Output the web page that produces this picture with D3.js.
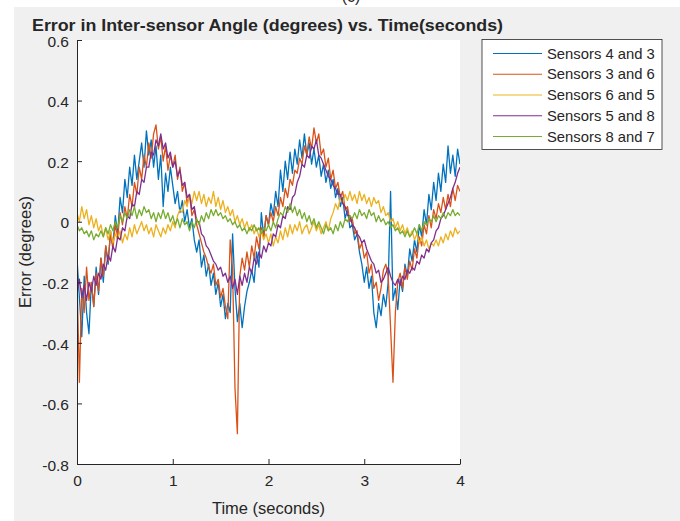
<!DOCTYPE html>
<html>
<head>
<meta charset="utf-8">
<script src="https://cdn.jsdelivr.net/npm/d3@7"></script>
<style>
  html, body { margin: 0; padding: 0; background: #ffffff; }
  svg { display: block; }
  text { font-family: "Liberation Sans", Arial, Helvetica, sans-serif; fill: #262626; }
</style>
</head>
<body>
<svg id="chart" width="680" height="521"></svg>
<script>
// Sampling grid of the recorded error signals (seconds)
const sampleStart = 0;
const sampleStep = 0.025;

const seriesNames = ["Sensors 4 and 3", "Sensors 3 and 6", "Sensors 6 and 5", "Sensors 5 and 8", "Sensors 8 and 7"];
const seriesColors = ["#0072BD", "#D95319", "#EDB120", "#7E2F8E", "#77AC30"];

const xTicks = [0, 1, 2, 3, 4];
const yTicks = [0.6, 0.4, 0.2, 0, -0.2, -0.4, -0.6, -0.8];

// Error in inter-sensor angle (degrees), one value per sample
const s43 = [
  -0.12, -0.25, -0.38, -0.18, -0.30, -0.37, -0.20, -0.28, -0.15, -0.24,
  -0.12, -0.20, -0.08, -0.14, -0.03, -0.08, 0.02, -0.04, 0.08, 0.03,
  0.14, 0.08, 0.18, 0.12, 0.22, 0.14, 0.20, 0.26, 0.18, 0.30,
  0.22, 0.27, 0.18, 0.25, 0.14, 0.22, 0.05, 0.16, 0.10, 0.18,
  0.12, 0.06, 0.10, 0.03, 0.07, 0.00, 0.04, -0.02, 0.01, -0.06,
  -0.10, -0.06, -0.15, -0.11, -0.18, -0.14, -0.21, -0.17, -0.24, -0.20,
  -0.28, -0.24, -0.32, -0.27, -0.30, -0.04, -0.22, -0.33, -0.27, -0.35,
  -0.28, -0.23, -0.20, -0.16, -0.20, -0.10, -0.15, 0.03, -0.05, 0.02,
  -0.01, 0.06, 0.02, 0.10, 0.05, 0.17, 0.10, 0.20, 0.14, 0.23,
  0.16, 0.24, 0.19, 0.27, 0.21, 0.29, 0.22, 0.26, 0.19, 0.24,
  0.18, 0.22, 0.15, 0.19, 0.13, 0.17, 0.11, 0.14, 0.08, 0.11,
  0.05, 0.08, 0.01, 0.04, -0.02, -0.01, -0.06, -0.04, -0.10, -0.14,
  -0.20, -0.15, -0.22, -0.18, -0.30, -0.35, -0.27, -0.31, -0.24, -0.28,
  -0.20, 0.10, -0.26, -0.22, -0.29, -0.19, -0.23, -0.14, -0.18, -0.09,
  -0.13, -0.06, -0.10, -0.01, -0.05, 0.04, -0.01, 0.09, 0.04, 0.13,
  0.07, 0.16, 0.10, 0.19, 0.13, 0.25, 0.16, 0.22, 0.15, 0.24, 0.19
];
const s36 = [
  -0.18, -0.53, -0.22, -0.30, -0.15, -0.26, -0.20, -0.28, -0.17, -0.23,
  -0.12, -0.18, -0.08, -0.13, -0.04, -0.09, -0.01, -0.05, 0.03, -0.01,
  0.05, 0.01, 0.09, 0.05, 0.13, 0.09, 0.18, 0.14, 0.22, 0.18,
  0.26, 0.21, 0.29, 0.32, 0.24, 0.28, 0.20, 0.25, 0.17, 0.22,
  0.18, 0.22, 0.14, 0.18, 0.10, 0.13, 0.06, 0.09, 0.02, 0.04,
  -0.01, -0.04, -0.07, -0.10, -0.12, -0.15, -0.17, -0.14, -0.21, -0.19,
  -0.25, -0.22, -0.28, -0.32, -0.06, -0.16, -0.55, -0.70, -0.18, -0.12,
  -0.16, -0.10, -0.15, -0.08, -0.12, -0.05, -0.09, -0.02, -0.05, 0.02,
  -0.01, 0.03, 0.00, 0.05, 0.02, 0.08, 0.05, 0.11, 0.08, 0.14,
  0.12, 0.17, 0.16, 0.21, 0.19, 0.25, 0.22, 0.28, 0.24, 0.31,
  0.26, 0.29, 0.22, 0.24, 0.18, 0.21, 0.14, 0.17, 0.11, 0.13,
  0.08, 0.10, 0.04, 0.05, 0.00, 0.01, -0.04, -0.03, -0.09, -0.07,
  -0.12, -0.10, -0.17, -0.14, -0.22, -0.20, -0.26, -0.22, -0.16, -0.14,
  -0.18, -0.35, -0.53, -0.30, -0.20, -0.17, -0.22, -0.15, -0.19, -0.13,
  -0.16, -0.09, -0.12, -0.05, -0.08, -0.01, -0.04, 0.02, -0.02, 0.04,
  0.01, 0.06, 0.03, 0.08, 0.04, 0.09, 0.05, 0.11, 0.07, 0.12, 0.10
];
const s65 = [
  0.03, 0.00, 0.05, 0.01, 0.04, -0.01, 0.02, -0.02, 0.01, -0.03,
  -0.01, -0.05, -0.02, -0.06, -0.03, -0.07, -0.04, -0.06, -0.03, -0.07,
  -0.04, -0.06, -0.02, -0.05, -0.01, -0.04, -0.02, 0.00, -0.03, -0.01,
  -0.04, -0.02, -0.05, -0.01, -0.03, -0.05, -0.02, -0.04, -0.01, -0.03,
  0.00, -0.02, 0.02, 0.04, 0.03, 0.07, 0.05, 0.09, 0.06, 0.10,
  0.07, 0.10, 0.06, 0.09, 0.05, 0.08, 0.06, 0.10, 0.05, 0.08,
  0.04, 0.07, 0.03, 0.05, 0.02, 0.04, 0.00, 0.02, -0.01, 0.01,
  -0.02, 0.00, -0.03, -0.01, -0.04, -0.02, -0.05, -0.03, -0.06, -0.04,
  -0.07, -0.04, -0.08, -0.05, -0.07, -0.03, -0.06, -0.02, -0.05, -0.01,
  -0.04, -0.01, -0.03, 0.00, -0.04, -0.02, -0.01, -0.04, -0.02, 0.00,
  -0.03, -0.01, -0.04, -0.02, 0.00, -0.03, 0.01, 0.03, 0.06, 0.04,
  0.08, 0.06, 0.09, 0.07, 0.10, 0.07, 0.09, 0.06, 0.10, 0.07,
  0.09, 0.06, 0.08, 0.05, 0.08, 0.06, 0.07, 0.03, 0.05, 0.02,
  0.03, 0.00, 0.01, -0.02, 0.00, -0.03, -0.01, -0.04, -0.02, -0.05,
  -0.03, -0.06, -0.04, -0.07, -0.05, -0.08, -0.06, -0.09, -0.07, -0.08,
  -0.06, -0.08, -0.05, -0.07, -0.04, -0.06, -0.03, -0.05, -0.02, -0.04, -0.03
];
const s58 = [
  -0.24, -0.19, -0.25, -0.21, -0.26, -0.20, -0.23, -0.18, -0.21, -0.17,
  -0.19, -0.14, -0.16, -0.11, -0.13, -0.08, -0.10, -0.05, -0.06, -0.02,
  -0.03, 0.02, 0.01, 0.06, 0.05, 0.10, 0.09, 0.14, 0.13, 0.18,
  0.18, 0.23, 0.22, 0.27, 0.25, 0.29, 0.24, 0.26, 0.21, 0.23,
  0.18, 0.20, 0.15, 0.17, 0.12, 0.13, 0.08, 0.09, 0.04, 0.05,
  0.00, 0.00, -0.04, -0.05, -0.08, -0.09, -0.11, -0.13, -0.14, -0.16,
  -0.15, -0.18, -0.17, -0.20, -0.18, -0.22, -0.19, -0.24, -0.18, -0.21,
  -0.17, -0.20, -0.15, -0.17, -0.12, -0.14, -0.10, -0.12, -0.08, -0.10,
  -0.07, -0.08, -0.04, -0.05, -0.01, -0.02, 0.02, 0.01, 0.05, 0.04,
  0.08, 0.09, 0.13, 0.15, 0.19, 0.18, 0.22, 0.21, 0.25, 0.24,
  0.27, 0.22, 0.21, 0.19, 0.17, 0.15, 0.14, 0.12, 0.11, 0.09,
  0.09, 0.06, 0.05, 0.02, 0.02, -0.01, -0.02, -0.04, -0.05, -0.07,
  -0.06, -0.09, -0.11, -0.13, -0.14, -0.17, -0.16, -0.20, -0.19, -0.17,
  -0.15, -0.18, -0.20, -0.21, -0.19, -0.21, -0.18, -0.19, -0.16, -0.17,
  -0.15, -0.16, -0.13, -0.14, -0.11, -0.12, -0.09, -0.10, -0.07, -0.06,
  -0.03, -0.02, 0.01, 0.02, 0.04, 0.06, 0.08, 0.11, 0.13, 0.16, 0.18
];
const s87 = [
  -0.01, -0.03, -0.02, -0.04, -0.03, -0.05, -0.03, -0.06, -0.04, -0.05,
  -0.03, -0.05, -0.02, -0.04, -0.01, -0.03, 0.00, -0.02, 0.02, 0.00,
  0.03, 0.01, 0.04, 0.02, 0.05, 0.01, 0.04, 0.02, 0.05, 0.03,
  0.04, 0.01, 0.03, 0.00, 0.03, 0.01, 0.04, 0.01, 0.03, 0.00,
  0.02, -0.01, 0.01, -0.02, 0.01, -0.01, 0.00, -0.03, 0.00, -0.02,
  0.01, -0.01, 0.02, 0.00, 0.03, 0.01, 0.04, 0.02, 0.04, 0.02,
  0.03, 0.01, 0.02, 0.00, 0.01, -0.01, 0.00, -0.02, -0.01, -0.03,
  -0.02, -0.04, -0.02, -0.03, -0.01, -0.03, -0.02, -0.04, -0.02, -0.03,
  -0.01, -0.03, 0.00, -0.02, 0.01, 0.03, 0.02, 0.05, 0.03, 0.06,
  0.03, 0.05, 0.02, 0.04, 0.01, 0.03, 0.00, 0.02, -0.01, 0.01,
  -0.02, 0.00, -0.02, -0.04, -0.01, -0.03, -0.02, -0.04, -0.01, -0.03,
  0.00, -0.02, 0.01, 0.00, 0.02, 0.01, 0.03, 0.01, 0.04, 0.02,
  0.03, 0.01, 0.04, 0.02, 0.03, 0.00, 0.02, 0.00, 0.01, -0.01,
  0.00, -0.02, -0.01, -0.03, -0.02, -0.04, -0.03, -0.05, -0.03, -0.05,
  -0.04, -0.02, -0.04, -0.01, -0.03, 0.00, -0.01, 0.01, 0.00, 0.02,
  0.00, 0.02, 0.01, 0.03, 0.01, 0.03, 0.02, 0.04, 0.02, 0.03, 0.02
];

const seriesValues = [s43, s36, s65, s58, s87];

const svg = d3.select("#chart");
const W = 680, H = 521;

// Figure background
svg.append("rect").attr("x", 14).attr("y", 7).attr("width", W - 14).attr("height", H - 7).attr("fill", "#f0f0f0");

// Subfigure caption sitting just above the figure
svg.append("text").attr("x", 351).attr("y", 2).attr("text-anchor", "middle")
  .style("font-size", "16px").text("(c)");

const plot = { left: 77, right: 460, top: 40, bottom: 464 };

const x = d3.scaleLinear().domain([0, 4]).range([plot.left, plot.right]);
const y = d3.scaleLinear().domain([-0.8, 0.6]).range([plot.bottom, plot.top]);

// Axes background
svg.append("rect").attr("x", plot.left).attr("y", plot.top)
  .attr("width", plot.right - plot.left).attr("height", plot.bottom - plot.top)
  .attr("fill", "#ffffff");

svg.append("clipPath").attr("id", "plotClip").append("rect")
  .attr("x", plot.left).attr("y", plot.top)
  .attr("width", plot.right - plot.left).attr("height", plot.bottom - plot.top);

// Signal traces
const line = d3.line()
  .x((d, i) => x(sampleStart + i * sampleStep))
  .y(d => y(d));

const traces = svg.append("g").attr("clip-path", "url(#plotClip)");
seriesValues.forEach((vals, k) => {
  traces.append("path")
    .datum(vals)
    .attr("fill", "none")
    .attr("stroke", seriesColors[k])
    .attr("stroke-width", 1.3)
    .attr("stroke-linejoin", "round")
    .attr("d", line);
});

const fmt = v => (v === 0 ? "0" : d3.format(".1f")(v).replace("−", "-"));

// Left axis with inward ticks
const yAxis = svg.append("g").attr("transform", `translate(${plot.left},0)`)
  .call(d3.axisLeft(y).tickValues(yTicks).tickFormat(fmt).tickSizeInner(-5).tickSizeOuter(0).tickPadding(8));
// Bottom axis with inward ticks
const xAxis = svg.append("g").attr("transform", `translate(0,${plot.bottom})`)
  .call(d3.axisBottom(x).tickValues(xTicks).tickFormat(d3.format("d")).tickSizeInner(-5).tickSizeOuter(0).tickPadding(8));

[yAxis, xAxis].forEach(g => {
  g.select(".domain").attr("stroke", "#262626").attr("stroke-width", 1);
  g.selectAll(".tick line").attr("stroke", "#262626").attr("stroke-width", 1);
  g.selectAll(".tick text").style("font-size", "15.5px").style("font-family", "Liberation Sans, Arial, sans-serif").attr("fill", "#262626");
});
xAxis.selectAll(".tick text").attr("dy", "0.9em");
yAxis.selectAll(".tick text").attr("dy", "0.4em");

// Axis titles
svg.append("text").attr("x", (plot.left + plot.right) / 2).attr("y", 514)
  .attr("text-anchor", "middle").style("font-size", "16.5px").text("Time (seconds)");
svg.append("text").attr("transform", `translate(31,${(plot.top + plot.bottom) / 2}) rotate(-90)`)
  .attr("text-anchor", "middle").style("font-size", "16.5px").text("Error (degrees)");

// Chart title
svg.append("text").attr("x", 32).attr("y", 30.5)
  .attr("textLength", 471).attr("lengthAdjust", "spacingAndGlyphs")
  .style("font-size", "16px").style("font-weight", "bold").attr("fill", "#000000")
  .text("Error in Inter-sensor Angle (degrees) vs. Time(seconds)");

// Legend
const legend = svg.append("g");
legend.append("rect").attr("x", 482).attr("y", 39.5).attr("width", 180).attr("height", 110)
  .attr("fill", "#ffffff").attr("stroke", "#262626").attr("stroke-width", 0.8);
const rowY = d3.scaleLinear().domain([0, 4]).range([53.5, 136.5]);
seriesNames.forEach((name, k) => {
  legend.append("line").attr("x1", 493).attr("x2", 542)
    .attr("y1", rowY(k)).attr("y2", rowY(k))
    .attr("stroke", seriesColors[k]).attr("stroke-width", 1.1);
  legend.append("text").attr("x", 547).attr("y", rowY(k)).attr("dy", "0.35em")
    .style("font-size", "14.8px").text(name);
});
</script>
</body>
</html>
